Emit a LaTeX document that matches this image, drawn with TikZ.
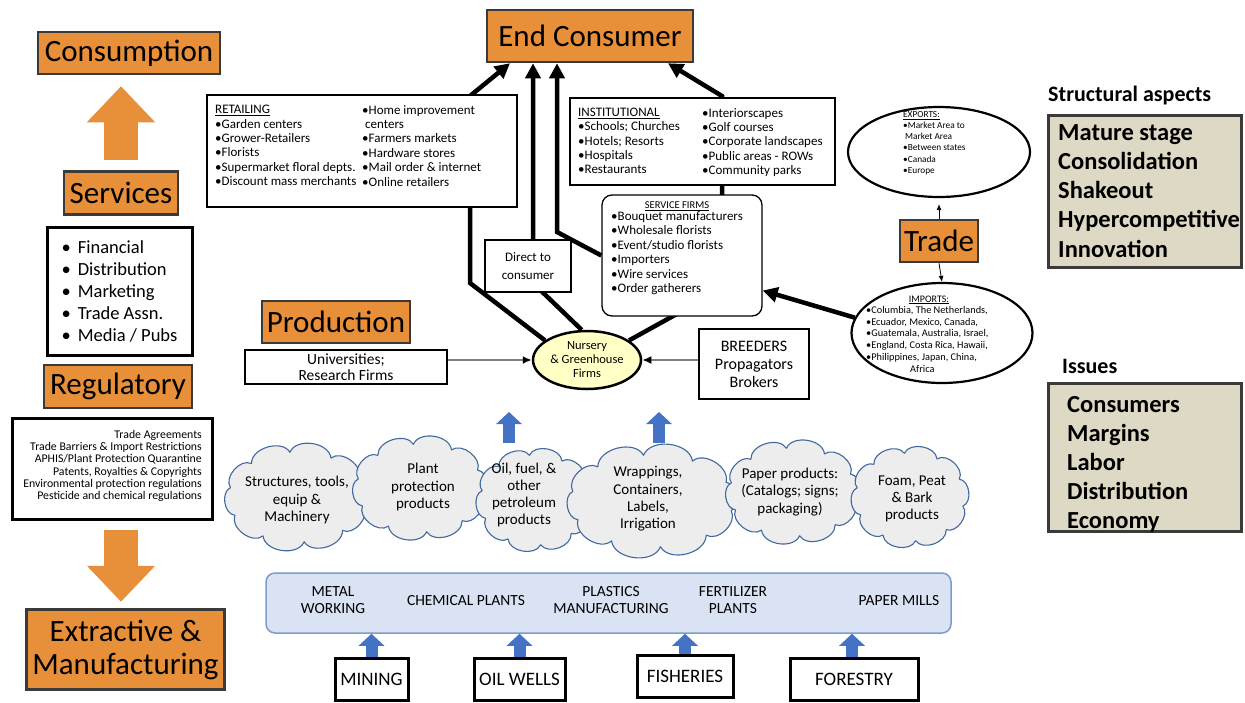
\documentclass[tikz,border=0pt]{standalone}
\usepackage{fontspec}
\setmainfont{Carlito}
\usetikzlibrary{shapes.geometric,arrows.meta,positioning}
\pgfdeclarelayer{background}
\pgfsetlayers{background,main}

\definecolor{stageorange}{HTML}{E88F3A}
\definecolor{stageline}{HTML}{3A3A3A}
\definecolor{aspecttan}{HTML}{DDD9C4}
\definecolor{nurseryfill}{HTML}{FFFFC6}
\definecolor{cloudfill}{HTML}{EDEDED}
\definecolor{cloudline}{HTML}{41699F}
\definecolor{millfill}{HTML}{DAE3F3}
\definecolor{millline}{HTML}{7E9BCB}
\definecolor{inputblue}{HTML}{4472C4}

\newcommand{\sz}[2]{\fontsize{#1}{#2}\selectfont}
\newcommand{\bul}{\textbullet}
% cloud outline: centre, inner x radius, inner y radius
\newcommand{\puffcloud}[3]{\path[puffline] ([shift={#1}]12:#2 and #3) \foreach \k in {1,...,10}{to[bend left=75] ([shift={#1}]12+\k*36:#2 and #3)} -- cycle;}

\begin{document}
\begin{tikzpicture}[x=1pt, y=-1pt,
stagebox/.style={rectangle, draw=stageline, fill=stageorange, line width=2.5pt, inner sep=0pt, align=center, font=\sz{31}{33}},
listbox/.style={rectangle, draw=black, fill=white, line width=3pt, inner sep=0pt},
plainbox/.style={rectangle, draw=black, fill=white, line width=1.3pt, inner sep=0pt},
aspectbox/.style={rectangle, draw=stageline, fill=aspecttan, line width=3pt, inner sep=0pt},
listtext/.style={anchor=north west, inner sep=0pt, align=left},
puffline/.style={draw=cloudline, fill=cloudfill, line width=1.1pt, line join=round},
pufftext/.style={inner sep=0pt, align=center, font=\sz{15}{17.3}},
millbox/.style={rectangle, draw=black, fill=white, line width=3pt, inner sep=0pt, font=\sz{19}{20}},
millname/.style={inner sep=0pt, align=center, font=\sz{15.5}{17}},
flow/.style={line width=4.5pt, -{Triangle[length=15pt,width=15pt]}},
feed/.style={draw=gray, line width=2pt, -{Latex[length=9pt,width=8pt,black]}},
tradearrow/.style={line width=0.8pt, -{Latex[length=6pt,width=5pt]}},
bluepush/.style={draw=inputblue, line width=12pt, -{Triangle[length=12pt,width=25pt]}},
orangepush/.style={draw=stageorange, line width=34pt, -{Triangle[length=36pt,width=66pt]}}]
\useasboundingbox (0,0) rectangle (1245,702);

% left column
\node[stagebox, minimum width=182pt, minimum height=42pt](consumption) at (129,53){Consumption};
\node[stagebox, minimum width=114pt, minimum height=43pt](services) at (121,193){Services};
\node[listbox, minimum width=145pt, minimum height=128pt, align=left, font=\sz{18.5}{22}](servicelist) at (119.5,291){\bul\hspace{7pt}Financial\\\bul\hspace{7pt}Distribution\\\bul\hspace{7pt}Marketing\\\bul\hspace{7pt}Trade Assn.\\\bul\hspace{7pt}Media / Pubs};
\node[stagebox, minimum width=148pt, minimum height=43pt](regulatory) at (118,386.5){Regulatory};
\node[listbox, minimum width=200pt, minimum height=101pt](reglist) at (112,468.5){};
\node[anchor=east, align=right, inner sep=0pt, font=\sz{11.8}{12.3}](regtext) at (202,466){Trade Agreements\\Trade Barriers \& Import Restrictions\\APHIS/Plant Protection Quarantine\\Patents, Royalties \& Copyrights\\Environmental protection regulations\\Pesticide and chemical regulations};
\node[stagebox, minimum width=198pt, minimum height=80pt](extractive) at (125.5,649.5){Extractive \&\\Manufacturing};

\draw[orangepush, shorten <=10pt, shorten >=11pt](services.north) -- (services.north |- consumption.south);
\draw[orangepush, shorten <=9pt, shorten >=6.5pt](reglist.south -| services.north) -- (extractive.north -| services.north);

% market channels
\node[stagebox, minimum width=206pt, minimum height=52pt](endconsumer) at (590,36){End Consumer};
\node[ellipse, draw=black, fill=nurseryfill, line width=2.5pt, minimum width=108pt, minimum height=58pt, inner sep=0pt, align=center, font=\sz{12.5}{14}](nursery) at (587,360){Nursery\\\& Greenhouse\\Firms};

\node[plainbox, minimum width=310pt, minimum height=112pt](retailing) at (362,151){};
\node[listtext, font=\sz{13}{14.4}](retailleft) at (215,105){\underline{RETAILING}\\\bul Garden centers\\\bul Grower-Retailers\\\bul Florists\\\bul Supermarket floral depts.\\\bul Discount mass merchants};
\node[listtext, font=\sz{13}{14.4}](retailright) at (362,105){\bul Home improvement\\\hspace{3pt}centers\\\bul Farmers markets\\\bul Hardware stores\\\bul Mail order \& internet\\\bul Online retailers};

\node[plainbox, minimum width=265pt, minimum height=87pt](institutional) at (702.5,141.5){};
\node[listtext, font=\sz{13}{14.3}](instleft) at (578,108){\underline{INSTITUTIONAL}\\\bul Schools; Churches\\\bul Hotels; Resorts\\\bul Hospitals\\\bul Restaurants};
\node[listtext, font=\sz{13}{14.3}](instright) at (702,108){\bul Interiorscapes\\\bul Golf courses\\\bul Corporate landscapes\\\bul Public areas - ROWs\\\bul Community parks};

\node[plainbox, rounded corners=10pt, minimum width=160pt, minimum height=121pt](servicefirms) at (682,255.5){};
\node[inner sep=0pt, font=\sz{10.5}{11}](servicetitle) at (677,206){\underline{SERVICE FIRMS}};
\node[listtext, font=\sz{13}{14.5}](servicelines) at (611,211){\bul Bouquet manufacturers\\\bul Wholesale florists\\\bul Event/studio florists\\\bul Importers\\\bul Wire services\\\bul Order gatherers};

\node[plainbox, minimum width=86pt, minimum height=52pt, align=center, font=\sz{13}{18}](direct) at (528,266){Direct to\\consumer};

\begin{pgfonlayer}{background}
\draw[flow](nursery.155) -- (470,283) -- (470,96) -- ([xshift=-80pt]endconsumer.south);
\draw[flow](nursery.100) -- (533,283) -- ([xshift=-57pt]endconsumer.south);
\draw[flow](servicefirms.west) -- (557,232) -- ([xshift=-33pt]endconsumer.south);
\draw[flow](nursery.25) -- (722,289) -- (722,96) -- ([xshift=78pt]endconsumer.south);
\end{pgfonlayer}

% production
\node[stagebox, minimum width=148pt, minimum height=42pt](production) at (336,322){Production};
\node[plainbox, minimum width=202pt, minimum height=34pt, align=center, font=\sz{15.5}{16}](universities) at (346,367){Universities;\\Research Firms};
\node[rectangle, draw=black, fill=white, line width=2.5pt, minimum width=110pt, minimum height=70pt, align=center, font=\sz{16}{18}](breeders) at (754,364){BREEDERS\\Propagators\\Brokers};
\draw[feed](universities.east |- nursery.west) -- (nursery.west);
\draw[feed](breeders.west |- nursery.east) -- (nursery.east);

% trade
\node[stagebox, minimum width=78pt, minimum height=42pt](trade) at (939,241){Trade};
\node[ellipse, draw=black, line width=2.2pt, fill=white, minimum width=182pt, minimum height=90pt](exports) at (939,152){};
\node[listtext, font=\sz{9.3}{11.2}](exporttext) at (903,111){\underline{EXPORTS:}\\\bul Market Area to\\\hspace{2pt}Market Area\\\bul Between states\\\bul Canada\\\bul Europe};
\node[ellipse, draw=black, line width=2.2pt, fill=white, minimum width=181pt, minimum height=100pt](imports) at (942,333){};
\node[inner sep=0pt, font=\sz{10}{10}](importtitle) at (929,300){\underline{IMPORTS:}};
\node[listtext, font=\sz{10.3}{11.8}](importtext) at (866,306){\bul Columbia, The Netherlands,\\\bul Ecuador, Mexico, Canada,\\\bul Guatemala, Australia, Israel,\\\bul England, Costa Rica, Hawaii,\\\bul Philippines, Japan, China,\\\hspace{44pt}Africa};
\draw[tradearrow, shorten >=6pt](trade.north) -- (exports.south);
\draw[tradearrow](trade.south) -- (imports.north);
\draw[flow](imports.170) -- ([yshift=-35pt]servicefirms.east);

% structural aspects and issues
\node[anchor=west, inner sep=0pt, font=\bfseries\sz{22}{24}](structtitle) at (1048,96){Structural aspects};
\node[aspectbox, minimum width=193pt, minimum height=152pt](structbox) at (1144.5,191.5){};
\node[listtext, font=\bfseries\sz{24.5}{29.3}](structitems) at (1058,124){Mature stage\\Consolidation\\Shakeout\\Hypercompetitive\\Innovation};
\node[anchor=west, inner sep=0pt, font=\bfseries\sz{22}{24}](issuestitle) at (1062,366){Issues};
\node[aspectbox, minimum width=193pt, minimum height=148pt](issuesbox) at (1144.5,457){};
\node[listtext, font=\bfseries\sz{24.5}{29}](issueitems) at (1067,396){Consumers\\Margins\\Labor\\Distribution\\Economy};

% inputs
\coordinate(pushleft) at (509,443);
\coordinate(pushlefttip) at (509,412);
\coordinate(pushright) at (659,443);
\coordinate(pushrighttip) at (659,412);
\draw[bluepush](pushleft) -- (pushlefttip);
\draw[bluepush](pushright) -- (pushrighttip);

\puffcloud{(297,497)}{68}{45}
\puffcloud{(420,488)}{63}{44}
\puffcloud{(535,500)}{54}{45}
\puffcloud{(652,501)}{81}{46}
\puffcloud{(793,492)}{63}{44}
\puffcloud{(910,497)}{54}{44}
\node[pufftext](textstructures) at (297,500){Structures, tools,\\equip \&\\Machinery};
\node[pufftext](textprotection) at (423,487){Plant\\protection\\products};
\node[pufftext](textpetroleum) at (524,495){Oil, fuel, \&\\other\\petroleum\\products};
\node[pufftext](textwrapping) at (648,499){Wrappings,\\Containers,\\Labels,\\Irrigation};
\node[pufftext](textpaper) at (790,492){Paper products:\\(Catalogs; signs;\\packaging)};
\node[pufftext](textfoam) at (912,499){Foam, Peat\\\& Bark\\products};

% extractive and manufacturing
\node[rectangle, rounded corners=9pt, draw=millline, fill=millfill, line width=1.5pt, minimum width=685pt, minimum height=60pt](mills) at (608.5,603){};
\node[millname](metalworking) at (333,600){METAL\\WORKING};
\node[millname](chemical) at (466,601){CHEMICAL PLANTS};
\node[millname](plastics) at (611,600){PLASTICS\\MANUFACTURING};
\node[millname](fertilizer) at (733,600){FERTILIZER\\PLANTS};
\node[millname](papermills) at (899,601){PAPER MILLS};

\node[millbox, minimum width=73pt, minimum height=42pt](mining) at (371.5,679){MINING};
\node[millbox, minimum width=91pt, minimum height=42pt](oilwells) at (519.5,679){OIL WELLS};
\node[millbox, minimum width=96pt, minimum height=42pt](fisheries) at (685,676){FISHERIES};
\node[millbox, minimum width=128pt, minimum height=42pt](forestry) at (854,679){FORESTRY};
\draw[bluepush](mining.north) -- (mining.north |- mills.south);
\draw[bluepush](oilwells.north) -- (oilwells.north |- mills.south);
\draw[bluepush](fisheries.north) -- (fisheries.north |- mills.south);
\draw[bluepush]([xshift=-2pt]forestry.north) -- ([xshift=-2pt]forestry.north |- mills.south);

\end{tikzpicture}
\end{document}
